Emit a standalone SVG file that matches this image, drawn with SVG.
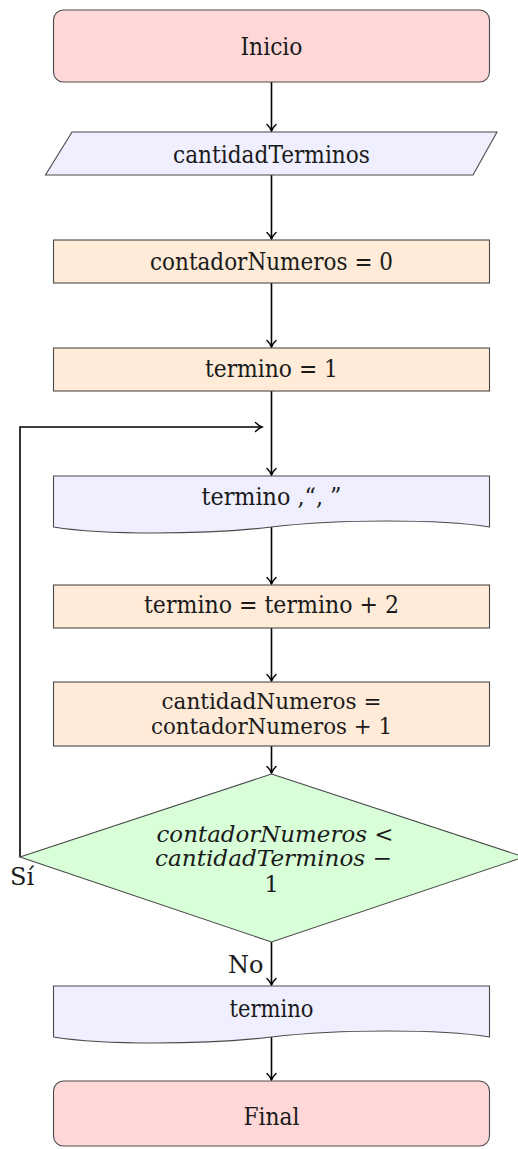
<svg xmlns="http://www.w3.org/2000/svg" width="518" height="1149" viewBox="0 0 518 1149">
<style>
.node{stroke:#4a4a4a;stroke-width:1.1}
.term{fill:#ffd7d7}
.io{fill:#efefff}
.proc{fill:#ffebd8}
.dec{fill:#d8ffd8}
text{font-family:"DejaVu Serif","Liberation Serif",serif;font-size:25px;fill:#1a1a1a;text-anchor:middle}
.sm{font-size:23px}
.it{font-style:italic}
.lbl{text-anchor:start;font-size:24px}
.conn{fill:none;stroke:#000;stroke-width:1.6}
</style>
<defs>
<marker id="arr" viewBox="-8 -6 10 12" refX="0" refY="0" markerWidth="10" markerHeight="12" orient="auto" markerUnits="userSpaceOnUse">
<path d="M-6.5,-4.5 C-4,-2 -1.5,-0.5 0,0 C-1.5,0.5 -4,2 -6.5,4.5" fill="none" stroke="#000" stroke-width="1.4" stroke-linecap="round"/>
</marker>
</defs>
<g id="connectors">
<line class="conn" x1="271.5" y1="82" x2="271.5" y2="131" marker-end="url(#arr)"/>
<line class="conn" x1="271.5" y1="175" x2="271.5" y2="239" marker-end="url(#arr)"/>
<line class="conn" x1="271.5" y1="283" x2="271.5" y2="347" marker-end="url(#arr)"/>
<line class="conn" x1="271.5" y1="391" x2="271.5" y2="475" marker-end="url(#arr)"/>
<polyline class="conn" points="20,857 20,427 262,427" marker-end="url(#arr)"/>
<line class="conn" x1="271.5" y1="527" x2="271.5" y2="584" marker-end="url(#arr)"/>
<line class="conn" x1="271.5" y1="628" x2="271.5" y2="681" marker-end="url(#arr)"/>
<line class="conn" x1="271.5" y1="746" x2="271.5" y2="773" marker-end="url(#arr)"/>
<line class="conn" x1="271.5" y1="942" x2="271.5" y2="985" marker-end="url(#arr)"/>
<line class="conn" x1="271.5" y1="1037" x2="271.5" y2="1080" marker-end="url(#arr)"/>
<text class="lbl" x="10" y="885">Sí</text>
<text class="lbl" x="228" y="973">No</text>
</g>
<g id="inicio">
<rect class="node term" x="53.5" y="10" width="436" height="72" rx="10"/>
<text x="271.5" y="55" textLength="62" lengthAdjust="spacingAndGlyphs">Inicio</text>
</g>
<g id="leer">
<polygon class="node io" points="72,132 497,132 473,175 45.5,175"/>
<text x="271.5" y="163" textLength="197" lengthAdjust="spacingAndGlyphs">cantidadTerminos</text>
</g>
<g id="contador">
<rect class="node proc" x="53.5" y="240" width="436" height="43"/>
<text x="271.5" y="270" textLength="243" lengthAdjust="spacingAndGlyphs">contadorNumeros = 0</text>
</g>
<g id="termino1">
<rect class="node proc" x="53.5" y="348" width="436" height="43"/>
<text x="271.5" y="377" textLength="133" lengthAdjust="spacingAndGlyphs">termino = 1</text>
</g>
<g id="mostrar">
<path class="node io" d="M53.5,476 H489.5 V527 C440,519 340,519 271.5,527 C203,535 103,535 53.5,527 Z"/>
<text x="271.5" y="505" textLength="140" lengthAdjust="spacingAndGlyphs">termino ,“, ”</text>
</g>
<g id="termino2">
<rect class="node proc" x="53.5" y="585" width="436" height="43"/>
<text x="271.5" y="613" textLength="255" lengthAdjust="spacingAndGlyphs">termino = termino + 2</text>
</g>
<g id="cantidad">
<rect class="node proc" x="53.5" y="682" width="436" height="64"/>
<text class="sm" x="271.5" y="709" textLength="220" lengthAdjust="spacingAndGlyphs">cantidadNumeros =</text>
<text class="sm" x="271.5" y="734" textLength="241" lengthAdjust="spacingAndGlyphs">contadorNumeros + 1</text>
</g>
<g id="decision">
<polygon class="node dec" points="271.5,774 524,857 271.5,942 20,857"/>
<text class="it sm" x="275" y="842" textLength="237" lengthAdjust="spacingAndGlyphs">contadorNumeros &lt;</text>
<text class="it sm" x="273.5" y="866" textLength="237" lengthAdjust="spacingAndGlyphs">cantidadTerminos −</text>
<text class="sm" x="271.5" y="892">1</text>
</g>
<g id="salida">
<path class="node io" d="M53.5,986 H489.5 V1037 C440,1029 340,1029 271.5,1037 C203,1045 103,1045 53.5,1037 Z"/>
<text x="271.5" y="1017" textLength="84" lengthAdjust="spacingAndGlyphs">termino</text>
</g>
<g id="final">
<rect class="node term" x="53.5" y="1081" width="436" height="65" rx="10"/>
<text x="271.5" y="1125" textLength="56" lengthAdjust="spacingAndGlyphs">Final</text>
</g>
</svg>
